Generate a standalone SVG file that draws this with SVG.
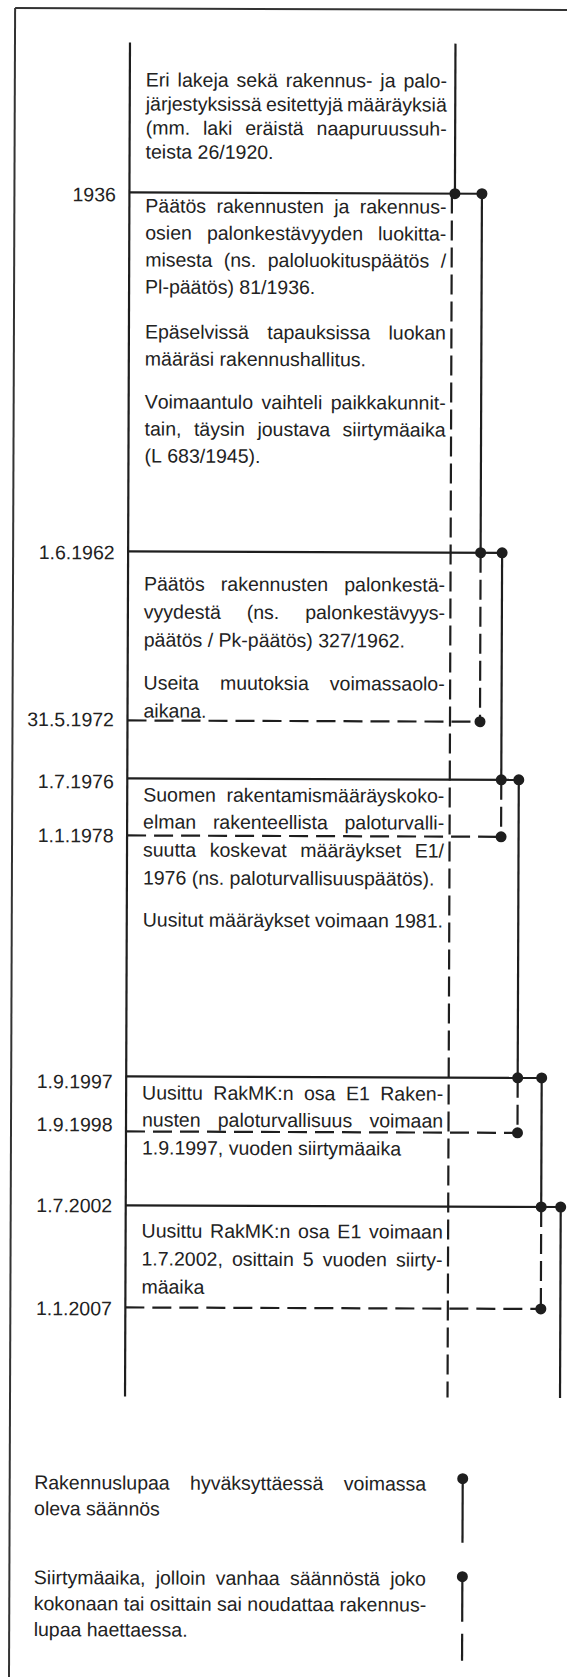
<svg xmlns="http://www.w3.org/2000/svg" width="567" height="1677" viewBox="0 0 567 1677">
<style>
.t{font-family:"Liberation Sans",Arial,Helvetica,sans-serif;font-size:19.5px;fill:#222;font-kerning:none}
.d{text-anchor:end}
.ln{stroke:#1e1e1e;stroke-width:2.2;fill:none}
.dv{stroke-dasharray:20 7}
.dh{stroke-dasharray:19 8}
.dot{fill:#1e1e1e}
.fr{stroke:#333;stroke-width:2;fill:none}
</style>
<rect width="567" height="1677" fill="#fff"/>
<g transform="rotate(0.21 283 720)">
<g id="frame">
<line class="fr" x1="12.5" y1="9" x2="575" y2="9"/>
<line class="fr" x1="12.5" y1="9" x2="12.5" y2="1690"/>
</g>
<g id="connectors">
<line class="ln" x1="127.5" y1="43" x2="127.5" y2="1397"/>
<line class="ln" x1="453" y1="43" x2="453" y2="193"/>
<line class="ln dv" x1="450" y1="193" x2="450" y2="1397"/>
<line class="ln" x1="127.5" y1="193" x2="480" y2="193"/>
<line class="ln" x1="480" y1="193" x2="480" y2="552"/>
<line class="ln dv" x1="480" y1="552" x2="480" y2="721"/>
<line class="ln" x1="127.5" y1="552" x2="501.5" y2="552"/>
<line class="ln" x1="501.5" y1="552" x2="501.5" y2="779"/>
<line class="ln dh" x1="127.5" y1="721" x2="480" y2="721"/>
<line class="ln dv" x1="501.5" y1="779" x2="501.5" y2="836"/>
<line class="ln" x1="127.5" y1="779" x2="519" y2="779"/>
<line class="ln" x1="519" y1="779" x2="519" y2="1077"/>
<line class="ln dh" x1="127.5" y1="836" x2="501.5" y2="836"/>
<line class="ln dv" x1="519" y1="1077" x2="519" y2="1132"/>
<line class="ln" x1="127.5" y1="1077" x2="543" y2="1077"/>
<line class="ln" x1="543" y1="1077" x2="543" y2="1206"/>
<line class="ln dh" x1="127.5" y1="1132" x2="519" y2="1132"/>
<line class="ln dv" x1="543" y1="1206" x2="543" y2="1308"/>
<line class="ln" x1="127.5" y1="1206" x2="562.5" y2="1206"/>
<line class="ln" x1="562.5" y1="1206" x2="562.5" y2="1397"/>
<line class="ln dh" x1="127.5" y1="1308" x2="543" y2="1308"/>
<circle class="dot" cx="453" cy="193" r="5.5"/>
<circle class="dot" cx="480" cy="193" r="5.5"/>
<circle class="dot" cx="480" cy="552" r="5.5"/>
<circle class="dot" cx="501.5" cy="552" r="5.5"/>
<circle class="dot" cx="480" cy="721" r="5.5"/>
<circle class="dot" cx="501.5" cy="779" r="5.5"/>
<circle class="dot" cx="519" cy="779" r="5.5"/>
<circle class="dot" cx="501.5" cy="836" r="5.5"/>
<circle class="dot" cx="519" cy="1077" r="5.5"/>
<circle class="dot" cx="543" cy="1077" r="5.5"/>
<circle class="dot" cx="519" cy="1132" r="5.5"/>
<circle class="dot" cx="543" cy="1206" r="5.5"/>
<circle class="dot" cx="562.5" cy="1206" r="5.5"/>
<circle class="dot" cx="543" cy="1308" r="5.5"/>
</g>
<g id="dates" class="t d">
<text x="114" y="202">1936</text>
<text x="114" y="560">1.6.1962</text>
<text x="114" y="727">31.5.1972</text>
<text x="114" y="789">1.7.1976</text>
<text x="114" y="843">1.1.1978</text>
<text x="114" y="1089">1.9.1997</text>
<text x="114" y="1132">1.9.1998</text>
<text x="114" y="1213">1.7.2002</text>
<text x="114" y="1316">1.1.2007</text>
</g>
<g id="node-early" class="t">
<text x="143.5" y="87" style="word-spacing:2.55px">Eri lakeja sekä rakennus- ja palo-</text>
<text x="143.5" y="111" style="word-spacing:-1.2px">järjestyksissä esitettyjä määräyksiä</text>
<text x="143.5" y="135" style="word-spacing:7.5px">(mm. laki eräistä naapuruussuh-</text>
<text x="143.5" y="159">teista 26/1920.</text>
</g>
<g id="node-1936" class="t">
<text x="143.5" y="213" style="word-spacing:4.97px">Päätös rakennusten ja rakennus-</text>
<text x="143.5" y="240" style="word-spacing:9.6px">osien palonkestävyyden luokitta-</text>
<text x="143.5" y="267" style="word-spacing:6px">misesta (ns. paloluokituspäätös /</text>
<text x="143.5" y="294">Pl-päätös) 81/1936.</text>
<text x="143.5" y="339" style="word-spacing:12.85px">Epäselvissä tapauksissa luokan</text>
<text x="143.5" y="366">määräsi rakennushallitus.</text>
<text x="143.5" y="409" style="word-spacing:3.1px">Voimaantulo vaihteli paikkakunnit-</text>
<text x="143.5" y="436" style="word-spacing:7.13px">tain, täysin joustava siirtymäaika</text>
<text x="143.5" y="463">(L 683/1945).</text>
</g>
<g id="node-1962" class="t">
<text x="143.5" y="591" style="word-spacing:10.7px">Päätös rakennusten palonkestä-</text>
<text x="143.5" y="619" style="word-spacing:20.5px">vyydestä (ns. palonkestävyys-</text>
<text x="143.5" y="647">päätös / Pk-päätös) 327/1962.</text>
<text x="143.5" y="690" style="word-spacing:15.6px">Useita muutoksia voimassaolo-</text>
<text x="143.5" y="718">aikana.</text>
</g>
<g id="node-1976" class="t">
<text x="143.5" y="802" style="word-spacing:5.2px">Suomen rakentamismääräyskoko-</text>
<text x="143.5" y="829" style="word-spacing:11.25px">elman rakenteellista paloturvalli-</text>
<text x="143.5" y="857" style="word-spacing:8.2px">suutta koskevat määräykset E1/</text>
<text x="143.5" y="885">1976 (ns. paloturvallisuuspäätös).</text>
<text x="143.5" y="927">Uusitut määräykset voimaan 1981.</text>
</g>
<g id="node-1997" class="t">
<text x="143.5" y="1100" style="word-spacing:5.08px">Uusittu RakMK:n osa E1 Raken-</text>
<text x="143.5" y="1127" style="word-spacing:11.8px">nusten paloturvallisuus voimaan</text>
<text x="143.5" y="1155">1.9.1997, vuoden siirtymäaika</text>
</g>
<g id="node-2002" class="t">
<text x="143.5" y="1238" style="word-spacing:2.4px">Uusittu RakMK:n osa E1 voimaan</text>
<text x="143.5" y="1266" style="word-spacing:3.7px">1.7.2002, osittain 5 vuoden siirty-</text>
<text x="143.5" y="1294">mäaika</text>
</g>
<g id="legend-valid">
<text class="t" x="37" y="1490" style="word-spacing:15px">Rakennuslupaa hyväksyttäessä voimassa</text>
<text class="t" x="37" y="1516">oleva säännös</text>
<line class="ln" x1="465.5" y1="1478" x2="465.5" y2="1542"/>
<circle class="dot" cx="465.5" cy="1478" r="5.5"/>
</g>
<g id="legend-transition">
<text class="t" x="37" y="1585" style="word-spacing:4.8px">Siirtymäaika, jolloin vanhaa säännöstä joko</text>
<text class="t" x="37" y="1611">kokonaan tai osittain sai noudattaa rakennus-</text>
<text class="t" x="37" y="1637">lupaa haettaessa.</text>
<line class="ln" x1="465.5" y1="1576" x2="465.5" y2="1621"/>
<line class="ln" x1="465.5" y1="1633" x2="465.5" y2="1660"/>
<circle class="dot" cx="465.5" cy="1576" r="5.5"/>
</g>
</g>
</svg>
